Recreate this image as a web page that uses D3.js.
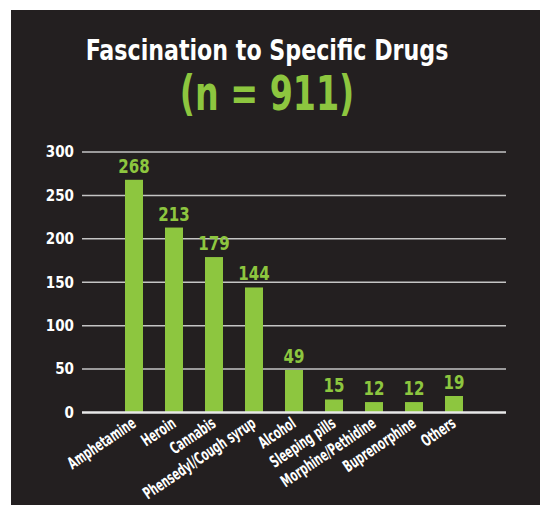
<!DOCTYPE html>
<html>
<head>
<meta charset="utf-8">
<script src="https://cdn.jsdelivr.net/npm/d3@7"></script>
<style>
  html, body { margin: 0; padding: 0; background: #fff; }
  svg { display: block; }
</style>
</head>
<body>
<div id="chart"></div>
<script>
  const width = 540;
  const height = 505;

  const drugs = ["Amphetamine", "Heroin", "Cannabis", "Phensedyl/Cough syrup", "Alcohol",
    "Sleeping pills", "Morphine/Pethidine", "Buprenorphine", "Others"];
  const counts = [268, 213, 179, 144, 49, 15, 12, 12, 19];
  const yTicks = [0, 50, 100, 150, 200, 250, 300];

  const green = "#8dc63f";
  const font = "'DejaVu Sans Condensed', 'DejaVu Sans', sans-serif";

  const svg = d3.select("#chart").append("svg")
    .attr("width", width)
    .attr("height", height);

  // dark panel
  svg.append("rect")
    .attr("x", 11).attr("y", 10)
    .attr("width", width - 11).attr("height", height - 10)
    .style("fill", "#231f20");

  // titles (squeezed a bit to get the narrow look of the original)
  svg.append("text")
    .attr("transform", "translate(267,60) scale(0.88,1)")
    .style("text-anchor", "middle")
    .style("font", "bold 28px " + font)
    .style("fill", "#fff")
    .text("Fascination to Specific Drugs");

  svg.append("text")
    .attr("transform", "translate(267,110) scale(0.77,1)")
    .style("text-anchor", "middle")
    .style("font", "bold 48px " + font)
    .style("fill", green)
    .text("(n = 911)");

  const x = d3.scaleBand()
    .domain(drugs)
    .range([114, 474])
    .paddingInner(0.55)
    .paddingOuter(0.275);

  const y = d3.scaleLinear()
    .domain([0, 300])
    .range([412.5, 152]);

  // gridlines
  svg.selectAll(".grid")
    .data(yTicks.filter(d => d > 0))
    .enter()
    .append("line")
    .attr("x1", 82).attr("x2", 506)
    .attr("y1", d => y(d)).attr("y2", d => y(d))
    .style("stroke", "#c4c4c4")
    .style("stroke-width", 1.5);

  // y tick labels
  svg.selectAll(".ytick")
    .data(yTicks)
    .enter()
    .append("text")
    .attr("x", 74)
    .attr("y", d => y(d))
    .attr("dy", "0.36em")
    .style("text-anchor", "end")
    .style("font", "bold 15px " + font)
    .style("fill", "#fff")
    .text(d => d);

  // bars
  svg.selectAll(".bar")
    .data(drugs)
    .enter()
    .append("rect")
    .attr("x", d => x(d))
    .attr("y", (d, i) => y(counts[i]))
    .attr("width", x.bandwidth())
    .attr("height", (d, i) => y(0) - y(counts[i]))
    .style("fill", green);

  // baseline
  svg.append("line")
    .attr("x1", 82).attr("x2", 506)
    .attr("y1", y(0)).attr("y2", y(0))
    .style("stroke", "#e8e8e8")
    .style("stroke-width", 2.5);

  // value labels
  svg.selectAll(".val")
    .data(drugs)
    .enter()
    .append("text")
    .attr("transform", (d, i) => "translate(" + (x(d) + x.bandwidth() / 2) + "," + (y(counts[i]) - 7) + ") scale(0.88,1)")
    .style("text-anchor", "middle")
    .style("font", "bold 19px " + font)
    .style("fill", green)
    .text((d, i) => counts[i]);

  // category labels, rotated
  svg.selectAll(".xlab")
    .data(drugs)
    .enter()
    .append("text")
    .attr("transform", d => "translate(" + (x(d) + x.bandwidth() / 2 + 3) + ",426) rotate(-34) scale(0.67,1)")
    .style("text-anchor", "end")
    .style("font", "bold 16.5px " + font)
    .style("fill", "#fff")
    .text(d => d);
</script>
</body>
</html>
